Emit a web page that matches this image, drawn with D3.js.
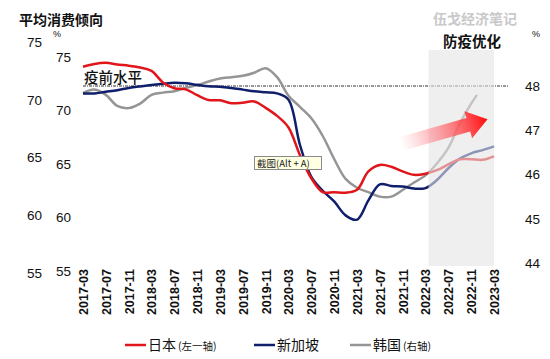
<!DOCTYPE html>
<html><head><meta charset="utf-8">
<script src="https://cdn.jsdelivr.net/npm/d3@7/dist/d3.min.js"></script>
<style>
body{margin:0;background:#fff;}
svg{display:block;font-family:"Liberation Sans",Arial,"Noto Sans CJK SC",sans-serif;}
.cjk{font-family:"Noto Sans CJK SC","Liberation Sans",sans-serif;}
</style></head>
<body><svg id="c" width="550" height="359"></svg>
<script>
// ---- data ----
const months = ["2017-03","2017-05","2017-07","2017-09","2017-11","2018-01","2018-03","2018-05","2018-07","2018-09","2018-11","2019-01","2019-03","2019-05","2019-07","2019-09","2019-11","2020-01","2020-03","2020-05","2020-07","2020-09","2020-11","2021-01","2021-03","2021-05","2021-07","2021-09","2021-11","2022-01","2022-03","2022-05","2022-07","2022-09","2022-11","2023-01","2023-03"];
const japan = [72.86,73.1,73.2,73.05,72.95,72.8,72.5,71.5,71.0,70.9,70.4,69.98,69.95,69.7,69.75,69.85,69.3,68.6,67.6,65.2,63.2,62.0,62.0,61.95,62.2,63.8,64.35,64.2,63.8,63.5,63.6,63.9,64.4,64.85,64.85,64.8,65.1];
const singapore = [71.6,71.6,71.75,71.9,72.1,72.25,72.38,72.5,72.6,72.55,72.4,72.27,72.22,72.1,71.95,71.8,71.7,71.6,71.0,66.8,63.8,62.5,61.5,60.2,59.8,61.6,63.1,62.95,62.9,62.7,62.75,63.5,64.6,65.5,66.0,66.3,66.65];
const koreaMonths = ["2017-03","2017-05","2017-07","2017-09","2017-11","2018-01","2018-03","2018-05","2018-07","2018-09","2018-11","2019-01","2019-03","2019-05","2019-07","2019-09","2019-11","2020-01","2020-03","2020-05","2020-07","2020-09","2020-11","2021-01","2021-03","2021-05","2021-07","2021-09","2021-11","2022-01","2022-03","2022-05","2022-07","2022-09","2022-11","2022-12"];
const korea = [47.84,47.92,47.8,47.55,47.5,47.6,47.8,47.85,47.88,47.96,48.02,48.1,48.17,48.2,48.23,48.3,48.4,48.2,47.78,47.53,47.27,46.87,46.35,45.9,45.7,45.6,45.5,45.5,45.65,45.82,45.98,46.25,46.6,47.15,47.6,47.8];
const xTickLabels = ["2017-03","2017-07","2017-11","2018-03","2018-07","2018-11","2019-03","2019-07","2019-11","2020-03","2020-07","2020-11","2021-03","2021-07","2021-11","2022-03","2022-07","2022-11","2023-03"];
const leftTicks = [55,60,65,70,75];
const rightTicks = [44,45,46,47,48];
const preCovidLevel = 48;
const shadeStart = "2022-03", shadeEnd = "2023-03";

// ---- helpers ----
const mi = s => { const [y,m] = s.split("-").map(Number); return (y-2017)*12 + (m-3); };
const svg = d3.select("#c");

const x = d3.scaleLinear().domain([0,72]).range([83,494]);
const yJ = d3.scaleLinear().domain([55,75]).range([273,42]);
const yS = d3.scaleLinear().domain([55,75]).range([271,57]);
const yK = d3.scaleLinear().domain([44,48]).range([263,86]);

// axes
const fmt = d3.format("d");
const axOuter = svg.append("g").attr("transform","translate(45,0)")
  .call(d3.axisLeft(yJ).tickValues(leftTicks).tickSize(0).tickPadding(3).tickFormat(fmt));
const axInner = svg.append("g").attr("transform","translate(74,0)")
  .call(d3.axisLeft(yS).tickValues(leftTicks).tickSize(0).tickPadding(3).tickFormat(fmt));
const axRight = svg.append("g").attr("transform","translate(522,0)")
  .call(d3.axisRight(yK).tickValues(rightTicks).tickSize(0).tickPadding(3).tickFormat(fmt));
[axOuter,axInner,axRight].forEach(g=>{
  g.select(".domain").remove();
  g.selectAll("text").attr("font-size",13.5).attr("fill","#111").attr("font-family","Liberation Sans,Arial,sans-serif");
});

const axX = svg.append("g").attr("transform","translate(0,266)")
  .call(d3.axisBottom(x).tickValues(xTickLabels.map(mi)).tickSize(0)
        .tickFormat((d,i)=>xTickLabels[i]));
axX.select(".domain").remove();
axX.selectAll("text")
  .attr("transform","rotate(-90)")
  .attr("text-anchor","end")
  .attr("x",-3).attr("y",0).attr("dy","0.35em")
  .attr("font-size",12.5).attr("font-weight","bold").attr("fill","#111")
  .attr("font-family","Liberation Sans,Arial,sans-serif");

// pre-covid dotted line
svg.append("line")
  .attr("x1",x(0)).attr("x2",509).attr("y1",yK(preCovidLevel)).attr("y2",yK(preCovidLevel))
  .attr("stroke","#333").attr("stroke-width",1).attr("stroke-dasharray","3,1,1,1");

// lines
const mk = (ys,xs) => d3.line().x((d,i)=>x(mi(xs[i]))).y(d=>ys(d)).curve(d3.curveCatmullRom.alpha(0.5));
svg.append("path").datum(korea).attr("d",mk(yK,koreaMonths))
  .attr("fill","none").attr("stroke","#959595").attr("stroke-width",2.5);
svg.append("path").datum(singapore).attr("d",mk(yS,months))
  .attr("fill","none").attr("stroke","#0f1f6b").attr("stroke-width",2.5);
svg.append("path").datum(japan).attr("d",mk(yJ,months))
  .attr("fill","none").attr("stroke","#e0161b").attr("stroke-width",2.5);

// shaded region (over lines)
svg.append("rect")
  .attr("x",x(mi(shadeStart))+3).attr("y",50)
  .attr("width",x(mi(shadeEnd))-x(mi(shadeStart))-3).attr("height",216)
  .attr("fill","#e4e4e4").attr("opacity",0.6);

// arrow
const defs = svg.append("defs");
const gr = defs.append("linearGradient").attr("id","ag").attr("x1","0").attr("x2","1").attr("y1","0").attr("y2","0");
gr.append("stop").attr("offset","0").attr("stop-color","#ff9aa0").attr("stop-opacity",0);
gr.append("stop").attr("offset","0.35").attr("stop-color","#ff8088").attr("stop-opacity",0.55);
gr.append("stop").attr("offset","1").attr("stop-color","#ff0a0a").attr("stop-opacity",1);
svg.append("path")
  .attr("d","M0,-7 L70,-7 L70,-14 L90,0 L70,14 L70,7 L0,7 Z")
  .attr("fill","url(#ag)")
  .attr("transform","translate(401,144) rotate(-16)");

// texts
svg.append("text").attr("class","cjk").attr("x",19).attr("y",25)
  .attr("font-size",14).attr("font-weight","bold").attr("fill","#111").text("平均消费倾向");
svg.append("text").attr("x",53).attr("y",37).attr("font-size",9).attr("fill","#111").text("%");
svg.append("text").attr("x",532).attr("y",37).attr("font-size",9).attr("fill","#111").text("%");
svg.append("text").attr("class","cjk").attr("x",433).attr("y",24)
  .attr("font-size",14).attr("font-weight","bold").attr("fill","#c9c9c9").text("伍戈经济笔记");
svg.append("text").attr("class","cjk").attr("x",472).attr("y",47).attr("text-anchor","middle")
  .attr("font-size",14.5).attr("font-weight","bold").attr("fill","#111").text("防疫优化");
svg.append("text").attr("class","cjk").attr("x",84).attr("y",83)
  .attr("font-size",14.5).attr("font-weight",500).attr("fill","#111").text("疫前水平");

// tooltip artifact
svg.append("rect").attr("x",254.5).attr("y",156.5).attr("width",67).attr("height",13)
  .attr("fill","#ffffe1").attr("stroke","#8a8a8a").attr("stroke-width",1);
svg.append("text").attr("class","cjk").attr("x",257).attr("y",166.5)
  .attr("font-size",9.5).attr("fill","#222").text("截图(Alt + A)");

// legend
const legend = [
  {name:"日本", sub:"(左一轴)", color:"#e0161b", x:125},
  {name:"新加坡", sub:"", color:"#0f1f6b", x:254},
  {name:"韩国", sub:"(右轴)", color:"#959595", x:350}
];
const lg = svg.append("g");
legend.forEach(d=>{
  lg.append("line").attr("x1",d.x).attr("x2",d.x+21).attr("y1",345).attr("y2",345)
    .attr("stroke",d.color).attr("stroke-width",2.5);
  const t = lg.append("text").attr("class","cjk").attr("x",d.x+23).attr("y",350)
    .attr("font-size",14).attr("fill","#111");
  t.append("tspan").text(d.name);
  if (d.sub) t.append("tspan").attr("font-size",10.5).attr("dx",2).text(d.sub);
});
</script></body></html>
